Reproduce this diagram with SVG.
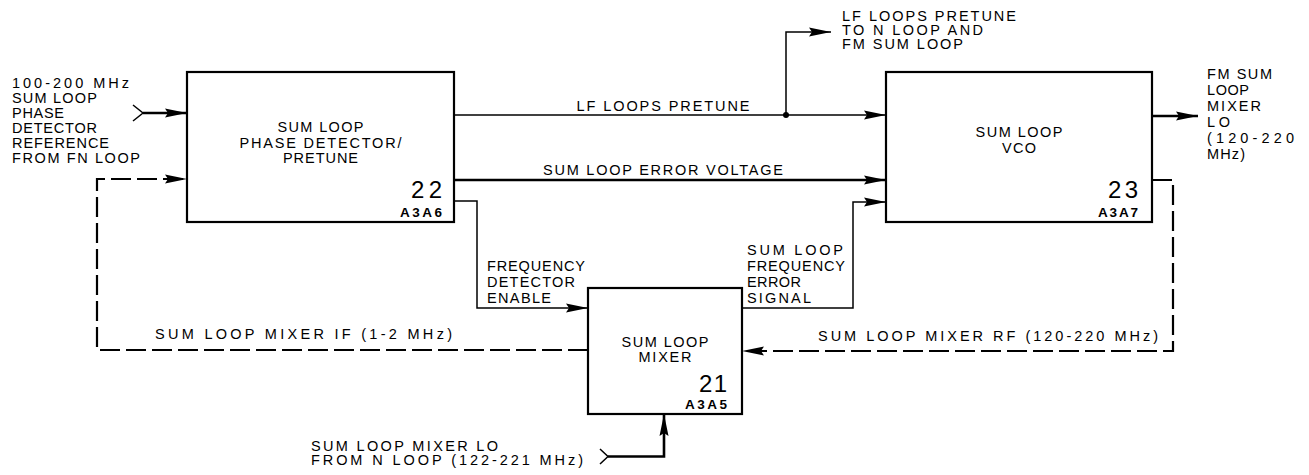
<svg xmlns="http://www.w3.org/2000/svg" width="1309" height="475" viewBox="0 0 1309 475">
<style>
text{font-family:"Liberation Sans",Arial,sans-serif;font-size:14.5px;fill:#000}
.c{text-anchor:middle}
.r{text-anchor:end}
.big{font-size:24px}
.ref{font-size:13.5px;font-weight:bold}
.box{fill:#fff;stroke:#000;stroke-width:2.2}
.ln{fill:none;stroke:#000;stroke-width:1.5}
.th{fill:none;stroke:#000;stroke-width:2.6}
.ds{fill:none;stroke:#000;stroke-width:2.2;stroke-dasharray:20 6}
</style>
<defs>
<marker id="ah" viewBox="-24 -5 26 10" refX="0" refY="0" markerWidth="26" markerHeight="10" markerUnits="userSpaceOnUse" orient="auto">
<path d="M0,0 L-22,-4.5 L-19,0 L-22,4.5 Z" fill="#000"/>
</marker>
</defs>
<g id="connectors">
<path class="ln" d="M133,105 L143,113 L133,121"/>
<path class="th" d="M143,113 H187" marker-end="url(#ah)"/>
<path class="ln" d="M454,115 H886" marker-end="url(#ah)"/>
<circle cx="786" cy="115" r="3" fill="#000"/>
<path class="ln" d="M786,115 V32 H831" marker-end="url(#ah)"/>
<path class="th" d="M454,180 H886" marker-end="url(#ah)"/>
<path class="ln" d="M454,201 H477 V308 H588" marker-end="url(#ah)"/>
<path class="ln" d="M742,308 H853 V202 H886" marker-end="url(#ah)"/>
<path class="th" d="M1152,116 H1198" marker-end="url(#ah)"/>
<path class="ds" d="M588,350 H97 V179 H187" marker-end="url(#ah)"/>
<path class="ds" d="M1152,180 H1173 V351 H742" marker-end="url(#ah)"/>
<path class="ln" d="M600,449 L608,456.5 L600,464"/>
<path class="th" d="M608,456.5 H664 V414" marker-end="url(#ah)"/>
</g>
<g id="node22">
<rect class="box" x="187" y="72" width="267" height="150"/>
<text class="c" x="320.5" y="132" textLength="86" lengthAdjust="spacing">SUM LOOP</text>
<text class="c" x="320.5" y="147.5" textLength="162" lengthAdjust="spacing">PHASE DETECTOR/</text>
<text class="c" x="320.5" y="163" textLength="75" lengthAdjust="spacing">PRETUNE</text>
<text class="big r" x="442" y="198" textLength="31" lengthAdjust="spacing">22</text>
<text class="ref r" x="442" y="217" textLength="42" lengthAdjust="spacing">A3A6</text>
</g>
<g id="node23">
<rect class="box" x="886" y="72" width="266" height="150"/>
<text class="c" x="1019" y="137" textLength="87" lengthAdjust="spacing">SUM LOOP</text>
<text class="c" x="1019" y="153" textLength="34" lengthAdjust="spacing">VCO</text>
<text class="big r" x="1138" y="198" textLength="30" lengthAdjust="spacing">23</text>
<text class="ref r" x="1138" y="217" textLength="40" lengthAdjust="spacing">A3A7</text>
</g>
<g id="node21">
<rect class="box" x="588" y="288" width="154" height="126"/>
<text class="c" x="665" y="347" textLength="87" lengthAdjust="spacing">SUM LOOP</text>
<text class="c" x="665" y="362" textLength="53" lengthAdjust="spacing">MIXER</text>
<text class="big r" x="727" y="392" textLength="28" lengthAdjust="spacing">21</text>
<text class="ref r" x="727" y="409" textLength="42" lengthAdjust="spacing">A3A5</text>
</g>
<g id="labels">
<text x="12" y="88" textLength="117" lengthAdjust="spacing">100-200 MHz</text>
<text x="12" y="103" textLength="85" lengthAdjust="spacing">SUM LOOP</text>
<text x="12" y="118" textLength="52" lengthAdjust="spacing">PHASE</text>
<text x="12" y="133" textLength="85" lengthAdjust="spacing">DETECTOR</text>
<text x="12" y="148" textLength="97" lengthAdjust="spacing">REFERENCE</text>
<text x="12" y="163" textLength="128" lengthAdjust="spacing">FROM FN LOOP</text>
<text class="c" x="663" y="111" textLength="173" lengthAdjust="spacing">LF LOOPS PRETUNE</text>
<text class="c" x="663" y="175" textLength="240" lengthAdjust="spacing">SUM LOOP ERROR VOLTAGE</text>
<text x="842" y="21" textLength="174" lengthAdjust="spacing">LF LOOPS PRETUNE</text>
<text x="842" y="35" textLength="141" lengthAdjust="spacing">TO N LOOP AND</text>
<text x="842" y="49" textLength="121" lengthAdjust="spacing">FM SUM LOOP</text>
<text x="1207" y="79" textLength="65" lengthAdjust="spacing">FM SUM</text>
<text x="1207" y="95" textLength="42" lengthAdjust="spacing">LOOP</text>
<text x="1207" y="111" textLength="54" lengthAdjust="spacing">MIXER</text>
<text x="1207" y="127" textLength="23" lengthAdjust="spacing">LO</text>
<text x="1207" y="143" textLength="87" lengthAdjust="spacing">(120-220</text>
<text x="1207" y="159" textLength="38" lengthAdjust="spacing">MHz)</text>
<text x="487" y="271" textLength="98" lengthAdjust="spacing">FREQUENCY</text>
<text x="487" y="287" textLength="88" lengthAdjust="spacing">DETECTOR</text>
<text x="487" y="303" textLength="64" lengthAdjust="spacing">ENABLE</text>
<text x="747" y="255" textLength="96" lengthAdjust="spacing">SUM LOOP</text>
<text x="747" y="271" textLength="98" lengthAdjust="spacing">FREQUENCY</text>
<text x="747" y="287" textLength="54" lengthAdjust="spacing">ERROR</text>
<text x="747" y="303" textLength="64" lengthAdjust="spacing">SIGNAL</text>
<text x="155" y="339" textLength="297" lengthAdjust="spacing">SUM LOOP MIXER IF (1-2 MHz)</text>
<text class="r" x="1158" y="341" textLength="340" lengthAdjust="spacing">SUM LOOP MIXER RF (120-220 MHz)</text>
<text x="311" y="451" textLength="187" lengthAdjust="spacing">SUM LOOP MIXER LO</text>
<text x="311" y="465" textLength="272" lengthAdjust="spacing">FROM N LOOP (122-221 MHz)</text>
</g>
</svg>
